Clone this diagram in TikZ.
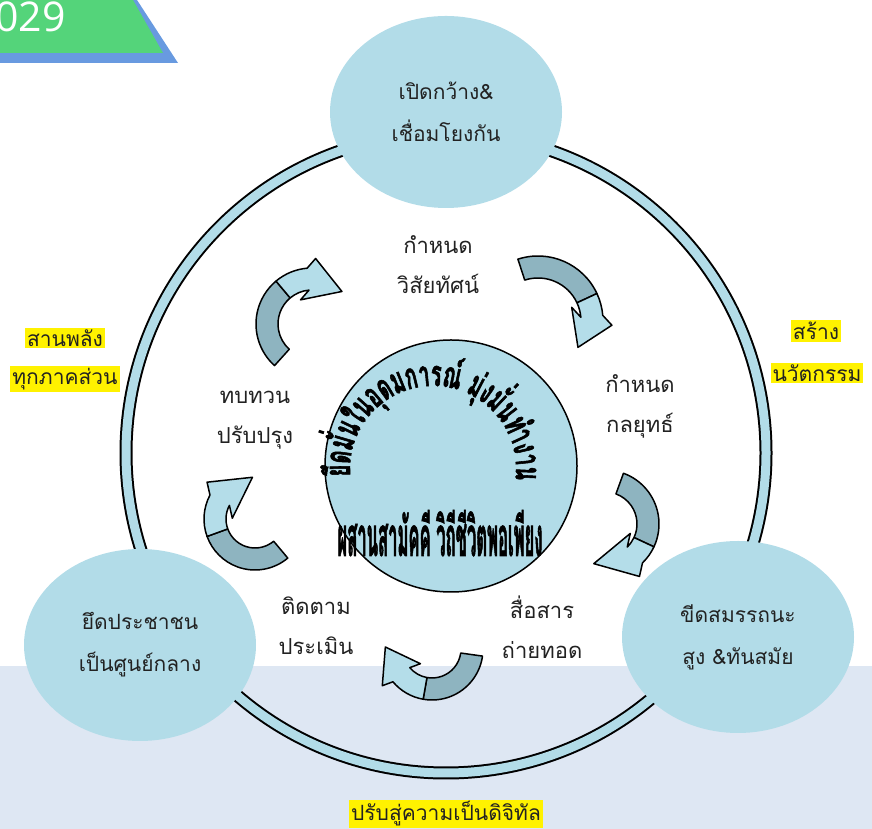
\documentclass[tikz,border=0pt]{standalone}
\usepackage{fontspec}
\usepackage{graphicx}
\usetikzlibrary{calc,shapes.geometric,decorations.text}
\newfontfamily\thaifont[Script=Thai]{Loma}
\newfontfamily\heavyfont[Script=Thai,FakeStretch=0.55,FakeBold=1.5]{Loma}
\newfontfamily\numfont{Open Sans}
\definecolor{bandblue}{RGB}{222,231,243}
\definecolor{discblue}{RGB}{178,220,232}
\definecolor{arrowdark}{RGB}{142,180,192}
\definecolor{arrowlight}{RGB}{180,221,233}
\definecolor{bannergreen}{RGB}{84,212,122}
\definecolor{bannerblue}{RGB}{104,154,224}
\definecolor{labelgrey}{RGB}{34,34,34}

\begin{document}
\begin{tikzpicture}[x=1pt,y=1pt,
  every node/.style={inner sep=0pt},
  stagelabel/.style={font=\thaifont\fontsize{22}{40}\selectfont,align=center,text=labelgrey},
  satellite/.style={ellipse,fill=discblue,minimum width=232,minimum height=192,
    font=\thaifont\fontsize{21}{42}\selectfont,align=center,text=labelgrey},
  hub/.style={circle,draw=black,line width=1.5pt,fill=discblue,minimum size=252},
  tag/.style={fill=yellow,inner sep=2pt,font=\thaifont\fontsize{21}{21}\selectfont,text=labelgrey},
  arrowline/.style={draw=black,line width=1.5pt,line join=round}]
\useasboundingbox (0,0) rectangle (872,829);
\fill[bandblue] (0,0) rectangle (872,163);
\fill[bannerblue] (0,829) -- (137,829) -- (178,766) -- (0,766) -- cycle;
\fill[bannergreen] (0,829) -- (133,829) -- (163,776) -- (0,776) -- cycle;
\node[anchor=base east,text=white,font=\numfont\fontsize{41}{41}\selectfont] (year) at (66,797) {029};

\draw[line width=13pt,black] (446,376) circle[radius=320];
\draw[line width=9pt,discblue] (446,376) circle[radius=320];

\node[satellite] (openness) at (446,717) {เปิดกว้าง\&\\เชื่อมโยงกัน};
\node[satellite] (people) at (140,184) {ยึดประชาชน\\เป็นศูนย์กลาง};
\node[satellite] (capacity) at (738,192) {ขีดสมรรถนะ\\สูง \&ทันสมัย};

\node[hub] (hub) at (451,363) {};
\path[decorate,decoration={text along path,text align={fit to path},
  text={|\heavyfont\bfseries\fontsize{36}{36}\selectfont|{ยึ}ด{มั่}น{ใ}น{อุ}ด{ม}ก{า}ร{ณ์} {มุ่}ง{มั่}น{ทำ}ง{า}น}}]
  (433,360) ++(185:83) arc[start angle=185,end angle=-5,radius=83];
\node[anchor=base] (motto) at (440,273) {\resizebox{205pt}{46pt}{\heavyfont\bfseries ผสานสามัคคี วิถีชีวิตพอเพียง}};

\foreach \cx/\cy/\r/\a/\m/\e/\tilt/\len in {312/505/45/228/130/95/-25/36,
  538/508/54/108/25/5/-29/34, 605/305/43/70/-25/-46/-32/42,
  432/180/40/-8/-100/-140/-10/32, 255/310/40/-50/-160/-208/-27/40}{
  \draw[arrowline,fill=arrowdark] ($(\cx,\cy)+(\a:{\r+11})$) arc[start angle=\a,end angle=\m,radius=\r+11]
    -- ($(\cx,\cy)+(\m:{\r-11})$) arc[start angle=\m,end angle=\a,radius=\r-11] -- cycle;
  \draw[arrowline,fill=arrowlight] ($(\cx,\cy)+(\m:{\r+11})$) arc[start angle=\m,end angle=\e,radius=\r+11]
    -- ($(\cx,\cy)+(\e:\r)+({\e+\tilt}:22)$) -- ($(\cx,\cy)+(\e:\r)+({\e-90+\tilt}:\len)$)
    -- ($(\cx,\cy)+(\e:\r)+({\e+\tilt+180}:22)$) -- ($(\cx,\cy)+(\e:{\r-11})$)
    arc[start angle=\e,end angle=\m,radius=\r-11] -- cycle;
}

\node[stagelabel] (vision) at (438,564) {กำหนด\\วิสัยทัศน์};
\node[stagelabel] (strategy) at (640,423) {กำหนด\\กลยุทธ์};
\node[stagelabel] (transfer) at (542,202) {สื่อสาร\\ถ่ายทอด};
\node[stagelabel] (monitor) at (316,203) {ติดตาม\\ประเมิน};
\node[stagelabel] (review) at (255,409) {ทบทวน\\ปรับปรุง};

\node[tag] (partners) at (65,491) {สานพลัง};
\node[tag] (sectors) at (65,450) {ทุกภาคส่วน};
\node[tag] (create) at (816,498) {สร้าง};
\node[tag] (innovation) at (817,456) {นวัตกรรม};
\node[tag] (digital) at (446,15) {ปรับสู่ความเป็นดิจิทัล};
\end{tikzpicture}
\end{document}
